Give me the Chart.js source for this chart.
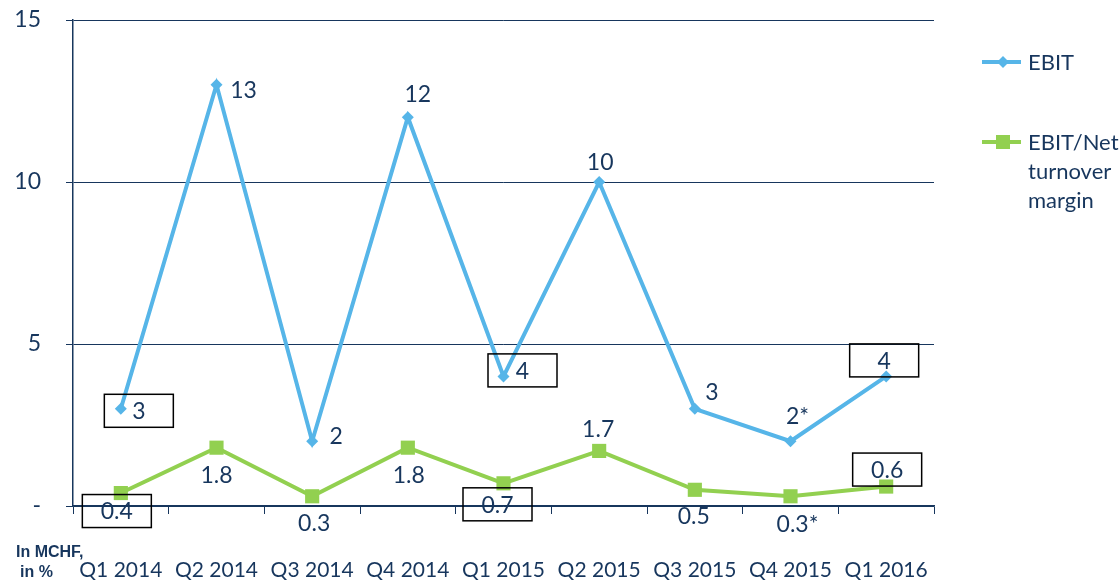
<!DOCTYPE html>
<html lang="en">
<head>
    <meta charset="UTF-8">
    <title>EBIT and EBIT/Net turnover margin</title>
    <script src="https://cdn.jsdelivr.net/npm/chart.js"></script>
    <style>
        body {
            margin: 0;
            background: #fff;
        }

        #wrap {
            position: relative;
            width: 1119px;
            height: 582px;
        }
    </style>
</head>
<body>
    <div id="wrap">
        <canvas id="chart" width="1119" height="582"></canvas>
    </div>

    <script>
        // data
        const quarters = ['Q1 2014', 'Q2 2014', 'Q3 2014', 'Q4 2014', 'Q1 2015', 'Q2 2015', 'Q3 2015', 'Q4 2015', 'Q1 2016'];
        const ebit = [3, 13, 2, 12, 4, 10, 3, 2, 4];
        const margin = [0.4, 1.8, 0.3, 1.8, 0.7, 1.7, 0.5, 0.3, 0.6];
        const ebitLabels = ['3', '13', '2', '12', '4', '10', '3', '2*', '4'];
        const marginLabels = ['0.4', '1.8', '0.3', '1.8', '0.7', '1.7', '0.5', '0.3*', '0.6'];
        const yTicks = [0, 5, 10, 15];

        const navy = '#17365D';
        const blue = '#56B5E8';
        const green = '#92D050';
        const font = 'Lato, "Open Sans", sans-serif';

        // where each value label sits relative to its point: [dx, dy, boxed]
        const ebitPlace = [
            [18, 2, true], [27, 5], [24, -6], [10, -24], [19, -6, true],
            [1, -20], [17, -17], [7, -26], [-2, -16, true]
        ];
        const marginPlace = [
            [-4, 18, true], [0, 27], [2, 26], [1, 27], [-6, 21, true],
            [-1, -22], [-1, 26], [7, 27], [1, -17, true]
        ];

        const valueLabels = {
            id: 'valueLabels',
            afterDatasetsDraw(chart) {
                const ctx = chart.ctx;
                const sets = [[ebitLabels, ebitPlace], [marginLabels, marginPlace]];
                ctx.save();
                ctx.font = '23px ' + font;
                ctx.fillStyle = navy;
                ctx.textAlign = 'center';
                ctx.textBaseline = 'middle';
                sets.forEach(([texts, place], di) => {
                    chart.getDatasetMeta(di).data.forEach((pt, i) => {
                        const [dx, dy, boxed] = place[i];
                        const x = pt.x + dx;
                        const y = pt.y + dy;
                        if (boxed) {
                            ctx.strokeStyle = '#000';
                            ctx.lineWidth = 1.5;
                            ctx.strokeRect(x - 34.5, y - 16.5, 69, 33);
                        }
                        ctx.fillText(texts[i], x, y + 1);
                    });
                });
                ctx.restore();
            }
        };

        const sideLegend = {
            id: 'sideLegend',
            afterDraw(chart) {
                const ctx = chart.ctx;
                ctx.save();
                ctx.lineWidth = 4;
                // EBIT
                ctx.strokeStyle = blue;
                ctx.beginPath();
                ctx.moveTo(982, 62);
                ctx.lineTo(1021, 62);
                ctx.stroke();
                ctx.fillStyle = blue;
                ctx.beginPath();
                ctx.moveTo(1003, 56);
                ctx.lineTo(1009, 62);
                ctx.lineTo(1003, 68);
                ctx.lineTo(997, 62);
                ctx.closePath();
                ctx.fill();
                // margin
                ctx.strokeStyle = green;
                ctx.beginPath();
                ctx.moveTo(982, 142);
                ctx.lineTo(1021, 142);
                ctx.stroke();
                ctx.fillStyle = green;
                ctx.fillRect(996, 135, 14, 14);

                ctx.fillStyle = navy;
                ctx.font = '22px ' + font;
                ctx.textAlign = 'left';
                ctx.textBaseline = 'middle';
                ctx.fillText('EBIT', 1028, 63);
                ['EBIT/Net', 'turnover', 'margin'].forEach((t, i) => {
                    ctx.fillText(t, 1028, 143 + i * 29);
                });

                ctx.font = 'bold 16px "Liberation Sans", Arial, sans-serif';
                ctx.fillText('In MCHF,', 16, 553);
                ctx.fillText('in %', 20, 573);
                ctx.restore();
            }
        };

        new Chart(document.getElementById('chart'), {
            type: 'line',
            data: {
                labels: quarters,
                datasets: [{
                        label: 'EBIT',
                        data: ebit,
                        borderColor: blue,
                        backgroundColor: blue,
                        borderWidth: 4,
                        pointStyle: 'rectRot',
                        pointRadius: 6,
                        pointBorderWidth: 0,
                        tension: 0
                    },
                    {
                        label: 'EBIT/Net turnover margin',
                        data: margin,
                        borderColor: green,
                        backgroundColor: green,
                        borderWidth: 4,
                        pointStyle: 'rect',
                        pointRadius: 10,
                        pointBorderWidth: 0,
                        tension: 0
                    }
                ]
            },
            options: {
                responsive: false,
                animation: false,
                layout: {
                    padding: { top: 20, right: 185, left: 0, bottom: 0 }
                },
                plugins: {
                    legend: { display: false },
                    tooltip: { enabled: false }
                },
                scales: {
                    x: {
                        offset: true,
                        afterFit(scale) { scale.height = 76; },
                        grid: {
                            offset: true,
                            drawOnChartArea: false,
                            drawTicks: true,
                            tickLength: 8,
                            color: navy,
                            lineWidth: 1
                        },
                        border: { color: navy, width: 1.5 },
                        ticks: {
                            color: navy,
                            font: { family: font, size: 21 },
                            padding: 44,
                            maxRotation: 0
                        }
                    },
                    y: {
                        min: 0,
                        max: 15,
                        afterFit(scale) {
                            scale.width = 73;
                            scale.paddingTop = 0;
                            scale.paddingBottom = 0;
                        },
                        afterBuildTicks(scale) {
                            scale.ticks = yTicks.map(v => ({ value: v }));
                        },
                        grid: {
                            color: navy,
                            lineWidth: 1,
                            drawTicks: true,
                            tickLength: 7
                        },
                        border: { color: navy, width: 1.5 },
                        ticks: {
                            color: navy,
                            font: { family: font, size: 23 },
                            padding: 25,
                            callback: v => v === 0 ? '-' : v
                        }
                    }
                }
            },
            plugins: [valueLabels, sideLegend]
        });
    </script>
</body>
</html>
